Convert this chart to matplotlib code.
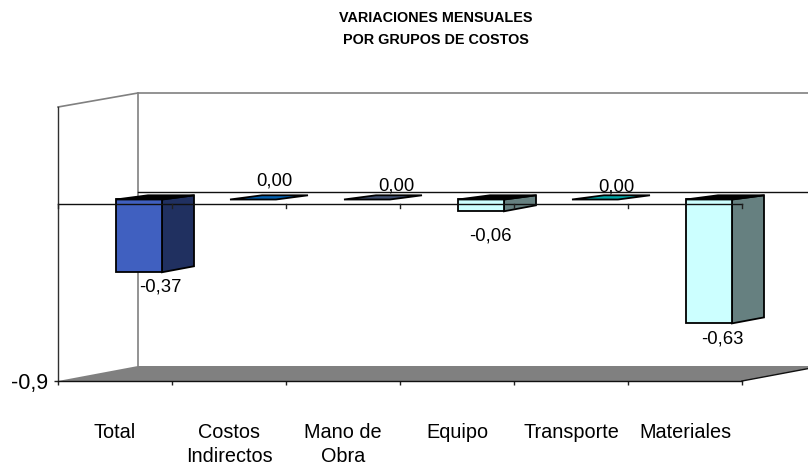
import matplotlib
matplotlib.use("Agg")
import matplotlib.pyplot as plt
from matplotlib.patches import Polygon

plt.rcParams['font.family'] = ['Liberation Sans', 'DejaVu Sans']

categories = ['Total', 'Costos\nIndirectos', 'Mano de\nObra', 'Equipo', 'Transporte', 'Materiales']
values = [-0.37, 0.0, 0.0, -0.06, 0.0, -0.63]
value_labels = ['-0,37', '0,00', '0,00', '-0,06', '0,00', '-0,63']
front_colors = ['#4060C0', '#0060B0', '#405070', '#CCFFFF', '#00A8A8', '#CCFFFF']
side_colors = ['#203060', '#003058', '#202838', '#668080', '#005454', '#668080']
y_min = -0.9
title = 'VARIACIONES MENSUALES\nPOR GRUPOS DE COSTOS'

W, H = 808, 465
L, R, T, B = 58, 742, 107, 381
PX_X = (R - L) / 6
PX_Y = (381 - 204) / 0.9
y_max = (204 - T) / PX_Y

fig = plt.figure(figsize=(W / 100, H / 100), dpi=100)
ax = fig.add_axes([L / W, 1 - B / H, (R - L) / W, (B - T) / H])
ax.set_xlim(-0.5, 5.5)
ax.set_ylim(y_min, y_max)
ax.patch.set_visible(False)

# depth of the 3D box, in data units
DX = 80 / PX_X
DY = 15 / PX_Y
x_far = (W + 30 - L) / PX_X - 0.5


def depth(x, y, d, dy=None):
    return (x + DX * d, y + DY * (d if dy is None else dy))


# walls and floor
grey = '#808080'
ax.add_patch(Polygon([depth(-0.5, y_min, 0), depth(-0.5, y_min, 1), (x_far, y_min + DY),
                      depth(5.5, y_min, 1), depth(5.5, y_min, 0)],
                     closed=True, fc=grey, ec='none', clip_on=False, zorder=1))
ax.plot([5.5, 5.5 + DX], [y_min, y_min + DY], color='#101010', lw=1, clip_on=False, zorder=2)
ax.plot([-0.5, -0.5 + DX, x_far], [y_max, y_max + 14 / PX_Y, y_max + 14 / PX_Y], color=grey, lw=1.2,
        clip_on=False, zorder=1)
ax.plot([-0.5 + DX, -0.5 + DX], [y_min + DY, y_max + 14 / PX_Y], color=grey, lw=1.2, clip_on=False, zorder=1)
ax.plot([-0.5 + DX, x_far], [12.3 / PX_Y, 12.3 / PX_Y], color='#101010', lw=1, clip_on=False, zorder=1)

# bars
BAR_W = 46 / PX_X
for i, (v, fc, sc) in enumerate(zip(values, front_colors, side_colors)):
    x0 = i - 0.5 + 34 / PX_X
    x1 = x0 + BAR_W
    d0, d1, top_back = 0.3, 0.7, 0.58
    kw = dict(closed=True, ec='black', lw=1.3, clip_on=False, zorder=3, joinstyle='miter')
    if v != 0:
        ax.add_patch(Polygon([depth(x1, 0, d0), depth(x1, 0, d1, top_back), depth(x1, v, d1), depth(x1, v, d0)],
                             fc=sc, **kw))
        ax.add_patch(Polygon([depth(x0, 0, d0), depth(x1, 0, d0), depth(x1, v, d0), depth(x0, v, d0)],
                             fc=fc, **kw))
    top_fc = fc if v == 0 else 'black'
    ax.add_patch(Polygon([depth(x0, 0, d0), depth(x1, 0, d0), depth(x1, 0, d1, top_back), depth(x0, 0, d1, top_back)],
                         fc=top_fc, **kw))

# zero line on top of the bars
ax.plot([-0.5, 5.5], [0, 0], color='#101010', lw=1, clip_on=False, zorder=4)
for tick in range(7):
    ax.plot([tick - 0.5, tick - 0.5], [0, -4 / PX_Y], color='#202020', lw=1, clip_on=False, zorder=4)

# value labels: pixel nudges relative to the bar's front-left corner / end
label_dx = [44, 44, 52, 32.7, 44.7, 36.7]
label_dy = [-14.5, 18, 13.5, -25, 12, -16]
for i, (v, s) in enumerate(zip(values, value_labels)):
    x = i - 0.5 + 34 / PX_X
    ax.annotate(s, xy=depth(x, v, 0.3), xytext=(label_dx[i] * 0.72, label_dy[i] * 0.72),
                textcoords='offset points', ha='center', va='center', fontsize=13.3,
                color='black', zorder=5, annotation_clip=False)

# axes furniture
for name in ('top', 'right'):
    ax.spines[name].set_visible(False)
ax.spines['left'].set_color('#303030')
ax.spines['bottom'].set_color('#101010')
ax.spines['left'].set_linewidth(1)
ax.spines['bottom'].set_linewidth(1)
ax.spines['left'].set_zorder(2)
ax.spines['bottom'].set_zorder(2)

ax.set_xticks([t - 0.5 for t in range(7)])
ax.set_xticklabels([])
ax.set_xticks(range(6), minor=True)
ax.set_xticklabels(categories, minor=True, fontsize=14.3, linespacing=1.3, va='top')
ax.tick_params(axis='x', which='major', length=3, width=1, color='#202020')
ax.tick_params(axis='x', which='minor', length=0, pad=30.5)
ax.set_yticks([y_min])
ax.set_yticklabels(['-0,9'], fontsize=15.5)
ax.tick_params(axis='y', length=3, width=1, color='#202020', pad=3.8)

fig.text(436 / W, 1 - 29 / H, title, ha='center', va='center', fontsize=10.4, fontweight='bold',
         linespacing=1.7)

fig.savefig('out.png', dpi=100)
